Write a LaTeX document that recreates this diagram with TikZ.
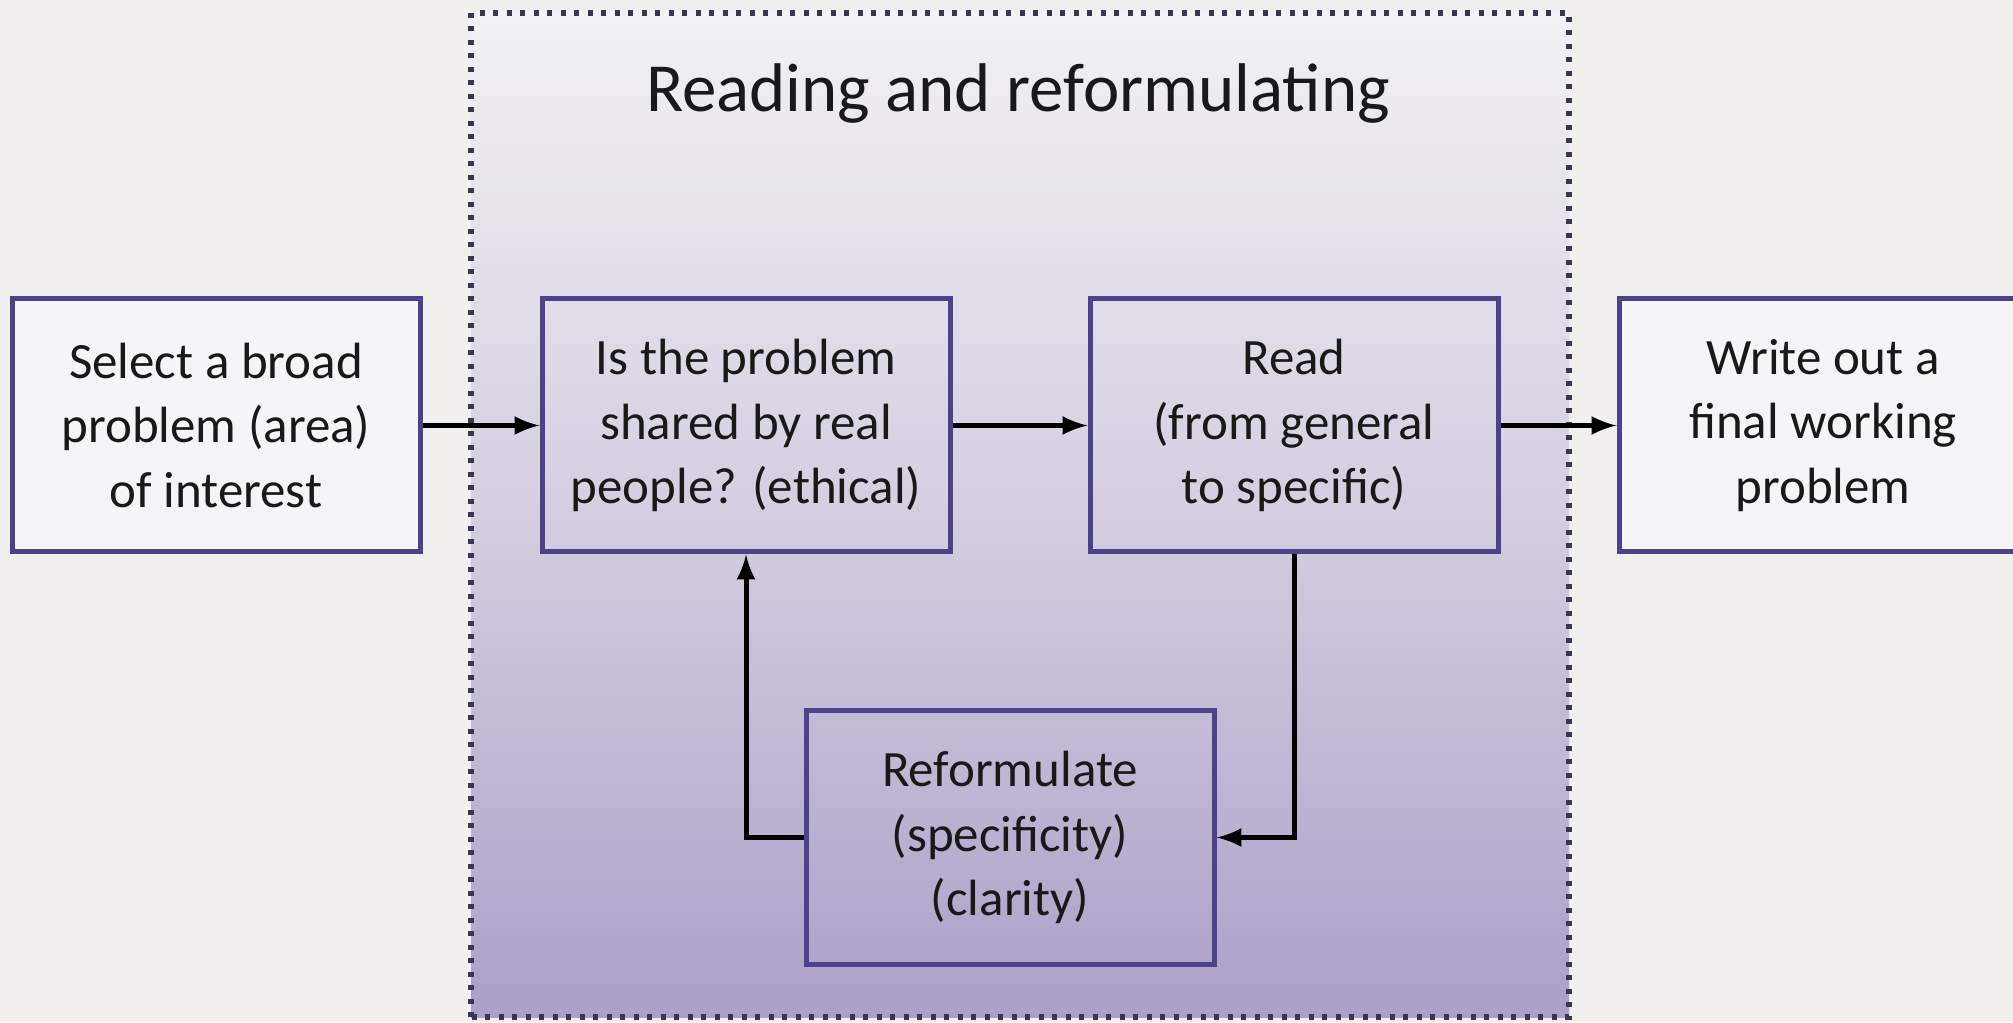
\documentclass[tikz,border=0pt]{standalone}
\usepackage{fontspec}
\setmainfont{Carlito}
\usepackage{xcolor}
\usepackage{tikz}
\usetikzlibrary{shapes,arrows,positioning,fit,backgrounds}

\definecolor{boxline}{RGB}{76,66,140}
\definecolor{pagebg}{RGB}{241,240,238}
\definecolor{boxfill}{RGB}{245,244,247}
\definecolor{shadetop}{RGB}{242,241,243}
\definecolor{shademid}{RGB}{212,206,224}
\definecolor{shadebot}{RGB}{170,160,200}
\definecolor{dotline}{RGB}{55,55,80}
\definecolor{txt}{RGB}{25,25,25}

\begin{document}
\begin{tikzpicture}[
    block/.style={rectangle, draw=boxline, line width=0.5mm, minimum width=4.08cm, minimum height=2.53cm, align=center, text=txt, font=\fontsize{14.5}{18.4}\selectfont},
    outerblock/.style={block, fill=boxfill},
    arrow/.style={->, >=latex, line width=0.5mm, color=black},
    frame/.style={draw=dotline, line width=0.6mm, dash pattern=on 0.5mm off 0.85mm}
]

% Page
\fill[pagebg] (0,0) rectangle (20.13,10.22);
\useasboundingbox (0,0) rectangle (20.13,10.22);

% Shaded frame
\shade[top color=shadetop, bottom color=shadebot, middle color=shademid] (4.71,0.05) rectangle (15.69,10.09);
\draw[frame] (4.71,0.05) rectangle (15.69,10.09);
\node[text=txt, font=\fontsize{19.6}{23}\selectfont] (title) at (10.18,9.28) {Reading and reformulating};

% Boxes
\node[outerblock] (select) at (2.16,5.965) {Select a broad\\problem (area)\\of interest};
\node[block] (shared) at (7.46,5.965) {Is the problem\\shared by real\\people? (ethical)};
\node[block] (read) at (12.94,5.965) {Read\\(from general\\to specific)};
\node[outerblock] (write) at (18.23,5.965) {Write out a\\final working\\problem};
\node[block] (reform) at (10.10,1.845) {Reformulate\\(specificity)\\(clarity)};

% Arrows
\draw[arrow] (select) -- (shared);
\draw[arrow] (shared) -- (read);
\draw[arrow] (read) -- (write);
\draw[arrow] (read.south) |- (reform.east);
\draw[arrow] (reform.west) -| (shared.south);

\end{tikzpicture}
\end{document}
